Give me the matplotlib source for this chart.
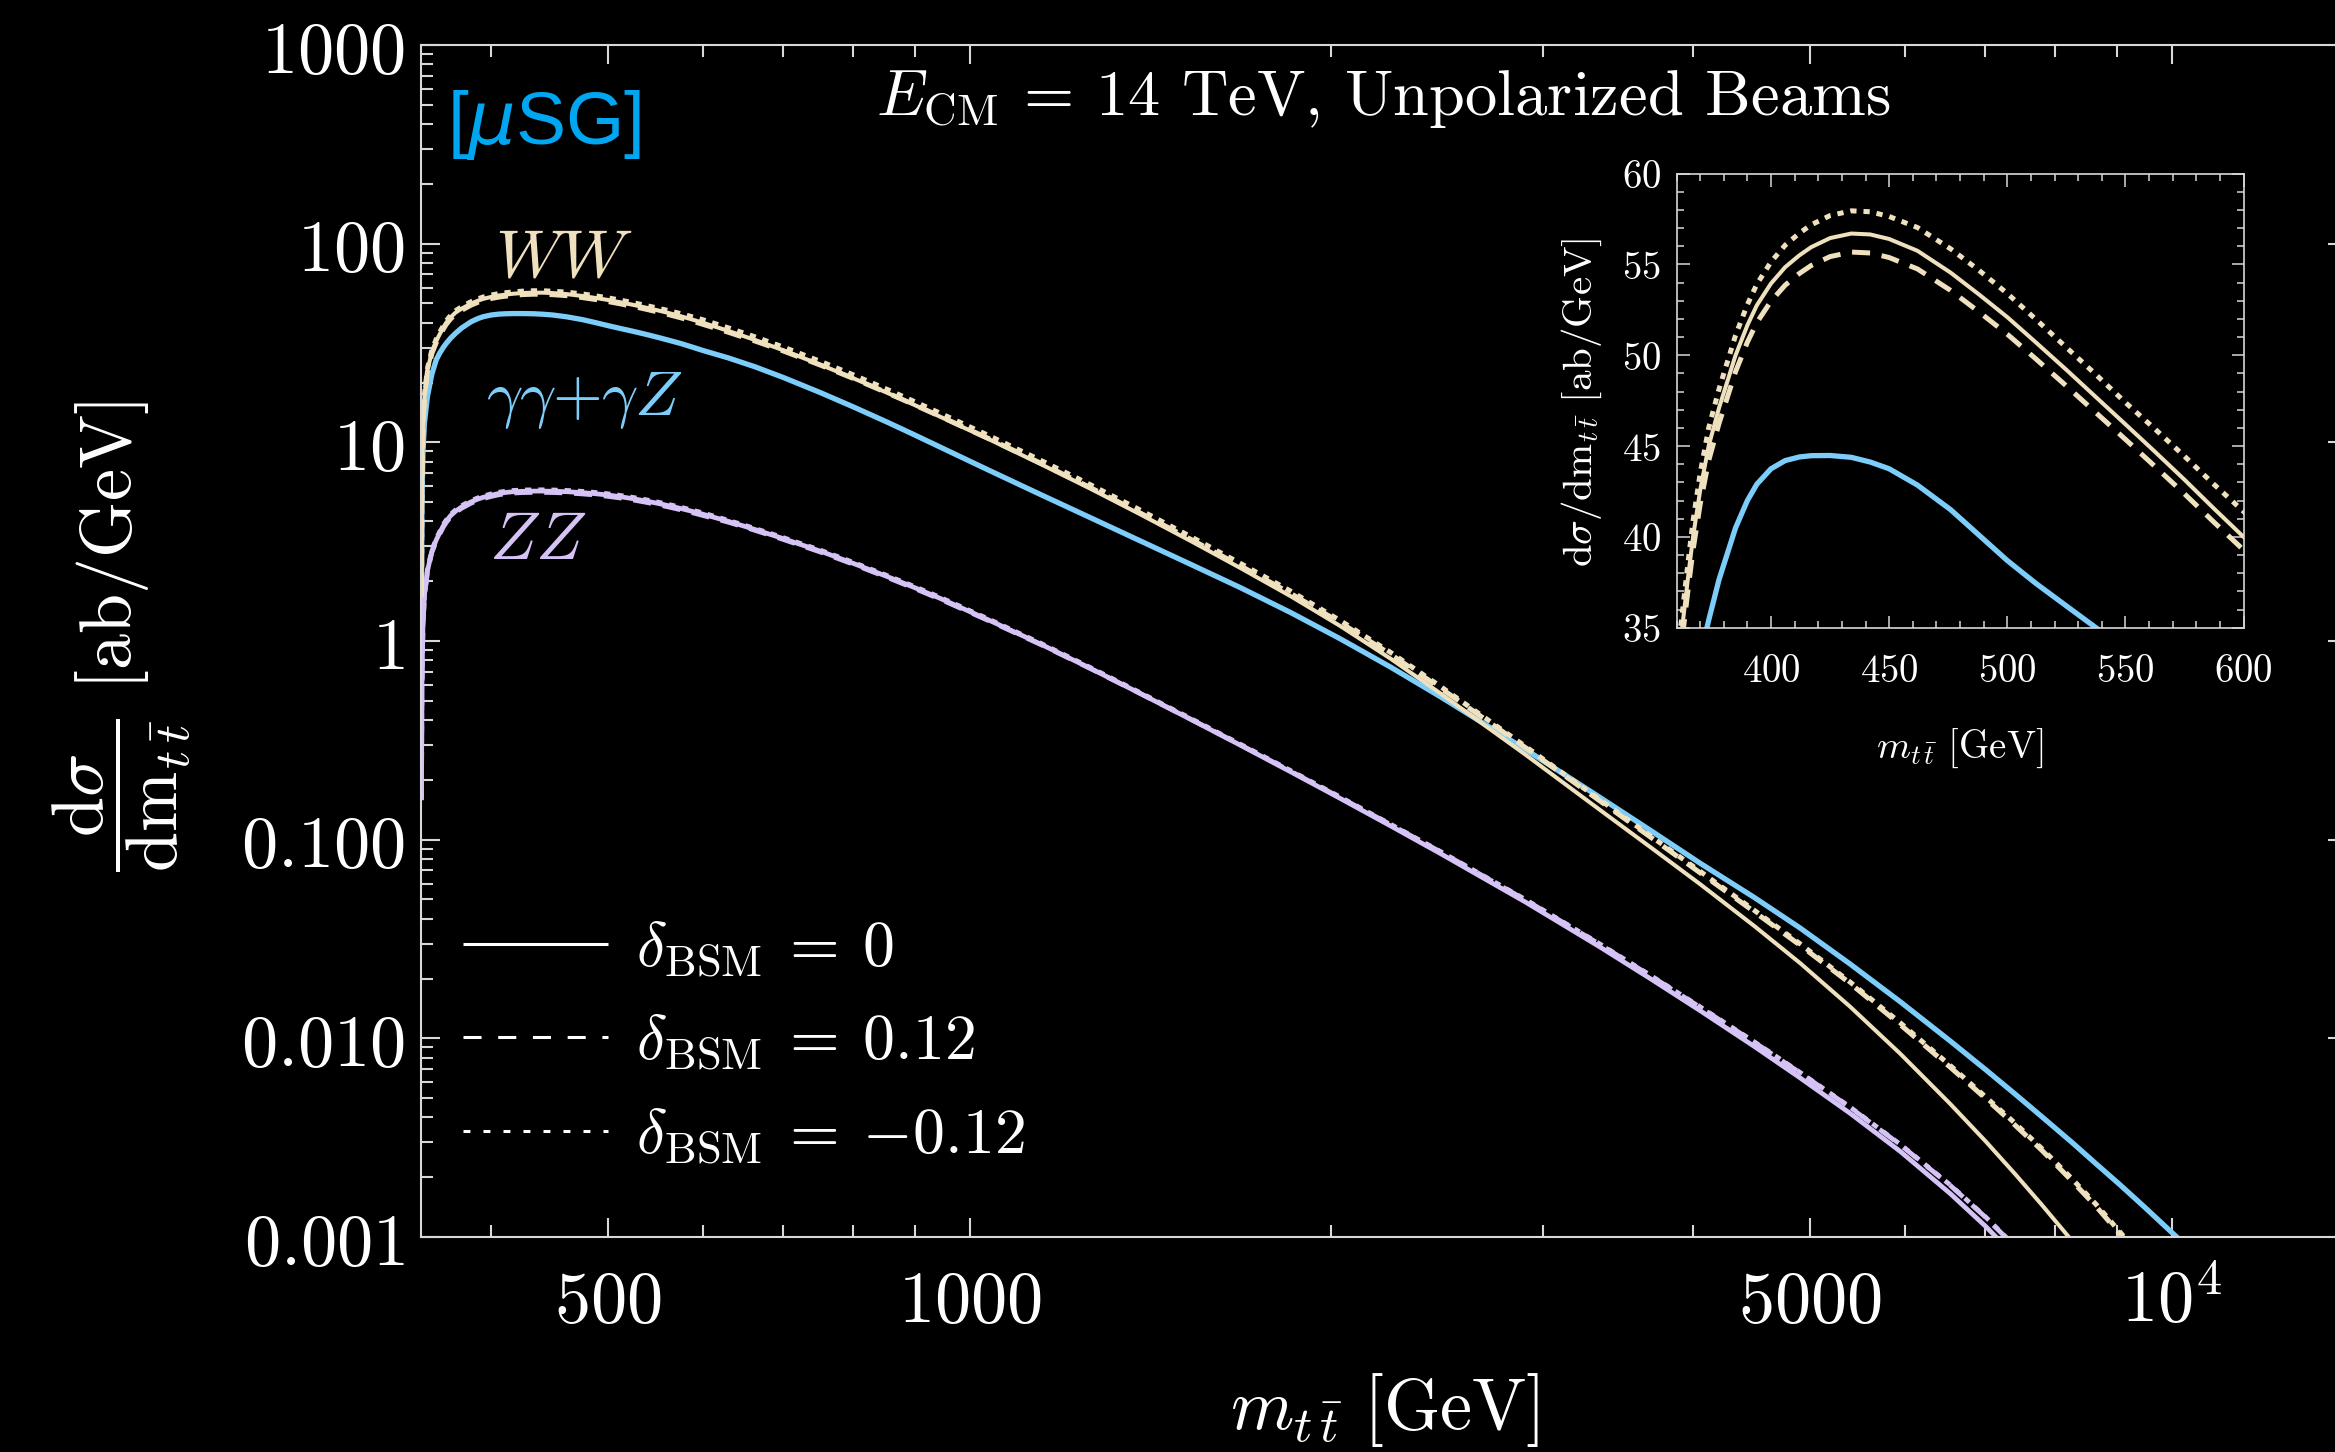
import numpy as np
import matplotlib
matplotlib.use("Agg")
import matplotlib.pyplot as plt
from matplotlib.lines import Line2D
from matplotlib.ticker import FixedLocator, FixedFormatter, LogLocator, NullFormatter, MultipleLocator, FuncFormatter

plt.rcParams['mathtext.fontset'] = 'cm'
plt.rcParams['font.family'] = ['DejaVu Serif']
plt.rcParams['lines.scale_dashes'] = False
plt.rcParams['axes.unicode_minus'] = False

# ---------------- data ----------------
m_tt = np.array([350.02, 350.3, 351, 352, 354, 357, 360, 362.4, 365, 367, 370, 373.6, 378, 385, 390, 394,
                 400, 406, 412, 417, 425, 434, 442, 450, 462, 476, 488, 500, 512, 525, 537, 550, 562, 575,
                 587, 600, 630, 663, 700, 753, 800, 855, 900, 945, 1040, 1145, 1260, 1387, 1530, 1680, 1850,
                 2034, 2240, 2464, 2900, 3346, 3700, 4053, 4500, 4909, 5400, 5945, 6543, 7000, 7407, 7800,
                 8259, 8650, 9060, 9500, 10097, 11000])

# W W fusion, delta_BSM = 0 / 0.12 / -0.12
ww_sm = np.array([1.7, 6.0, 12.0, 17.0, 23.0, 28.5, 32.3, 35.0, 37.9, 40.0, 42.55, 45.0, 47.1, 50.0, 51.65,
                  52.75, 53.95, 54.85, 55.5, 55.95, 56.45, 56.7, 56.65, 56.4, 55.75, 54.55, 53.35, 52.1, 50.72,
                  49.2, 47.76, 46.2, 44.75, 43.15, 41.62, 40.0, 36.37, 32.75, 29.06, 24.48, 21.04, 17.70, 15.41,
                  13.47, 10.30, 7.79, 5.85, 4.34, 3.17, 2.33, 1.68, 1.19, 0.815, 0.545, 0.268, 0.141, 0.090,
                  0.0597, 0.0366, 0.0239, 0.01446, 0.00838, 0.00468, 0.00304, 0.00208, 0.00145, 0.00096,
                  0.00068, 0.00047, 0.00032, 0.00019, 0.0001])
ww_plus = np.array([1.67, 5.89, 11.78, 16.69, 22.59, 27.99, 31.72, 34.37, 37.22, 39.28, 41.78, 44.19, 46.25,
                    49.1, 50.72, 51.80, 52.98, 53.86, 54.50, 54.94, 55.43, 55.68, 55.63, 55.38, 54.75, 53.57,
                    52.39, 51.16, 49.81, 48.31, 46.90, 45.37, 43.94, 42.37, 40.87, 39.28, 35.82, 32.36, 28.83,
                    24.36, 21.00, 17.70, 15.44, 13.52, 10.37, 7.87, 5.92, 4.405, 3.233, 2.388, 1.734, 1.238,
                    0.857, 0.580, 0.2908, 0.1565, 0.1013, 0.0681, 0.0432, 0.0294, 0.01894, 0.01173, 0.00716,
                    0.00499, 0.00366, 0.00273, 0.00192, 0.001428, 0.001034, 0.000736, 0.000456, 0.00025])
ww_minus = np.array([1.74, 6.13, 12.26, 17.37, 23.51, 29.13, 33.01, 35.77, 38.73, 40.88, 43.49, 45.99, 48.14,
                     51.10, 52.79, 53.91, 55.14, 56.06, 56.72, 57.18, 57.69, 57.95, 57.90, 57.64, 57.03, 55.86,
                     54.68, 53.40, 51.99, 50.43, 49.00, 47.40, 46.00, 44.44, 42.95, 41.40, 37.68, 33.96, 30.16,
                     25.43, 21.88, 18.41, 16.03, 14.02, 10.74, 8.14, 6.125, 4.557, 3.335, 2.458, 1.781, 1.267,
                     0.876, 0.591, 0.2948, 0.1586, 0.1026, 0.06925, 0.0439, 0.02988, 0.01923, 0.01198, 0.0073,
                     0.00508, 0.003744, 0.002784, 0.001968, 0.001462, 0.001058, 0.000752, 0.000466, 0.000255])
# gamma gamma + gamma Z
aa_az = np.array([2.0, 5.0, 9.0, 12.5, 17.0, 22.0, 26.0, 28.1, 30.1, 31.5, 33.4, 35.4, 37.65, 40.5, 42.0,
                  42.9, 43.75, 44.2, 44.4, 44.47, 44.48, 44.38, 44.12, 43.75, 42.85, 41.5, 40.1, 38.7, 37.45,
                  36.2, 35.05, 33.8, 32.65, 31.45, 30.25, 29.0, 26.6, 24.0, 21.2, 17.7, 15.1, 12.6, 10.9,
                  9.47, 7.19, 5.47, 4.18, 3.19, 2.42, 1.856, 1.39, 1.026, 0.739, 0.5245, 0.2847, 0.163, 0.1096,
                  0.0761, 0.051, 0.0359, 0.0237, 0.0153, 0.0097, 0.00697, 0.00525, 0.00403, 0.0030, 0.00234,
                  0.00183, 0.00141, 0.00100, 0.00061])
# Z Z fusion, delta_BSM = 0 / 0.12 / -0.12
zz_sm = np.array([0.16, 0.6, 1.2, 1.7, 2.25, 2.83, 3.22, 3.5, 3.81, 4.01, 4.27, 4.5, 4.73, 5.02, 5.18, 5.29,
                  5.42, 5.53, 5.6, 5.64, 5.67, 5.683, 5.683, 5.673, 5.643, 5.584, 5.515, 5.429, 5.327, 5.202,
                  5.077, 4.933, 4.796, 4.645, 4.503, 4.348, 4.002, 3.641, 3.275, 2.82, 2.461, 2.105, 1.857,
                  1.64, 1.266, 0.967, 0.729, 0.5438, 0.4012, 0.2988, 0.2195, 0.1613, 0.1173, 0.0852, 0.04854,
                  0.0288, 0.01965, 0.01378, 0.00907, 0.00632, 0.0042, 0.0027, 0.001655, 0.001134, 0.000799,
                  0.000568, 0.00038, 0.000274, 0.000195, 0.000135, 0.00009, 0.00005])
zz_plus = np.array([0.158, 0.591, 1.182, 1.675, 2.216, 2.788, 3.172, 3.448, 3.753, 3.950, 4.206, 4.433, 4.659,
                    4.945, 5.102, 5.211, 5.339, 5.447, 5.516, 5.555, 5.585, 5.598, 5.598, 5.588, 5.558, 5.500,
                    5.432, 5.348, 5.247, 5.124, 5.001, 4.859, 4.724, 4.575, 4.435, 4.283, 3.962, 3.605, 3.242,
                    2.792, 2.436, 2.084, 1.838, 1.624, 1.257, 0.962, 0.7275, 0.5438, 0.402, 0.3003, 0.221,
                    0.1629, 0.1191, 0.0869, 0.04975, 0.02966, 0.02034, 0.01433, 0.009524, 0.0067, 0.004494,
                    0.002916, 0.00182, 0.001259, 0.000895, 0.000642, 0.000433, 0.000315, 0.000226, 0.000158,
                    0.000106, 0.0000595])
zz_minus = np.array([0.162, 0.609, 1.218, 1.726, 2.284, 2.872, 3.268, 3.553, 3.867, 4.070, 4.334, 4.568, 4.801,
                     5.095, 5.258, 5.369, 5.501, 5.613, 5.684, 5.725, 5.755, 5.768, 5.768, 5.758, 5.728, 5.668,
                     5.598, 5.510, 5.407, 5.280, 5.153, 5.007, 4.868, 4.715, 4.571, 4.413, 4.050, 3.685, 3.314,
                     2.854, 2.491, 2.130, 1.879, 1.660, 1.280, 0.9767, 0.7363, 0.5492, 0.4056, 0.3024, 0.2226,
                     0.1639, 0.1196, 0.08724, 0.05, 0.02981, 0.02044, 0.0144, 0.009569, 0.006731, 0.004515,
                     0.00293, 0.001829, 0.001264, 0.000899, 0.000645, 0.000435, 0.000316, 0.000227, 0.000159,
                     0.000107, 0.0000598])

x_major = [500, 1000, 5000, 10000]
x_major_labels = [r'$500$', r'$1000$', r'$5000$', r'$10^4$']
x_minor = [400, 600, 700, 800, 900, 2000, 3000, 4000, 6000, 7000, 8000, 9000]
y_major = [1e-3, 1e-2, 1e-1, 1, 10, 100, 1000]
y_major_labels = [r'$0.001$', r'$0.010$', r'$0.100$', r'$1$', r'$10$', r'$100$', r'$1000$']
legend_labels = [r'$\delta_{\mathrm{BSM}}\:=\:0$', r'$\delta_{\mathrm{BSM}}\:=\:0.12$',
                 r'$\delta_{\mathrm{BSM}}\:=\:{-}0.12$']

# ---------------- styles ----------------
BEIGE = '#F0E1BE'
BLUE = '#7DCDFA'
PURPLE = '#D6C3F6'
LABELBLUE = '#00A6EF'
SPINE = '#D8D8D8'
DASH = (13, 8.5)
DOT = (4.5, 5.0)

fig = plt.figure(figsize=(23.35, 14.52), dpi=100, facecolor='black')
ax = fig.add_axes([0.18051, 0.14807, 0.82475, 0.82094])
ax.set_facecolor('black')
ax.set_xscale('log')
ax.set_yscale('log')
ax.set_xlim(350, 14000)
ax.set_ylim(1e-3, 1e3)


def draw_curves(a):
    a.plot(m_tt, zz_sm, color=PURPLE, lw=3.4, solid_capstyle='butt')
    a.plot(m_tt, zz_plus, color=PURPLE, lw=3.4, dashes=DASH)
    a.plot(m_tt, zz_minus, color=PURPLE, lw=3.4, dashes=DOT)
    a.plot(m_tt, aa_az, color=BLUE, lw=3.8, solid_capstyle='butt')
    a.plot(m_tt, ww_sm, color=BEIGE, lw=2.9, solid_capstyle='butt')
    a.plot(m_tt, ww_plus, color=BEIGE, lw=3.6, dashes=DASH)
    a.plot(m_tt, ww_minus, color=BEIGE, lw=3.6, dashes=DOT)


draw_curves(ax)

ax.xaxis.set_major_locator(FixedLocator(x_major))
ax.xaxis.set_major_formatter(FixedFormatter(x_major_labels))
ax.xaxis.set_minor_locator(FixedLocator(x_minor))
ax.xaxis.set_minor_formatter(NullFormatter())
ax.yaxis.set_major_locator(FixedLocator(y_major))
ax.yaxis.set_major_formatter(FixedFormatter(y_major_labels))
ax.yaxis.set_minor_locator(LogLocator(base=10, subs=np.arange(2, 10), numticks=100))
ax.yaxis.set_minor_formatter(NullFormatter())

ax.tick_params(which='both', direction='in', top=True, right=True, color=SPINE,
               width=1.5, labelcolor='white', labelsize=52)
ax.tick_params(which='major', length=13.5)
ax.tick_params(which='minor', length=8.5)
ax.tick_params(axis='x', which='major', pad=21)
ax.tick_params(axis='y', which='major', pad=12)
for s in ax.spines.values():
    s.set_color(SPINE)
    s.set_linewidth(1.5)

# curve labels
ax.text(460, 84.5, r'$WW$', color=BEIGE, fontsize=49, ha='center', va='center')
ax.text(478, 16.3, r'$\gamma\gamma{+}\gamma Z$', color=BLUE, fontsize=46, ha='center', va='center')
ax.text(437, 3.2, r'$ZZ$', color=PURPLE, fontsize=49, ha='center', va='center')

# legend
handles = [Line2D([], [], color='white', lw=2.2, solid_capstyle='butt'),
           Line2D([], [], color='white', lw=2.2, dashes=(13, 12)),
           Line2D([], [], color='white', lw=2.2, dashes=(5, 9.4))]
leg = ax.legend(handles, legend_labels, loc='upper left', bbox_to_anchor=(0.1981, 0.3675),
                bbox_transform=fig.transFigure, frameon=False, fontsize=46, labelcolor='white',
                handlelength=2.27, handletextpad=0.45, labelspacing=0.5, borderpad=0, borderaxespad=0)

# title / labels
fig.text(0.5925, 0.9208, r'$E_{\mathrm{CM}}$ = 14 TeV, Unpolarized Beams',
         color='white', fontsize=46.5, ha='center', va='baseline', family='cmr10')
fig.text(0.1915, 0.9008, r'[$\mu$SG]', color=LABELBLUE, fontsize=54, ha='left', va='baseline',
         family='Liberation Sans', math_fontfamily='dejavusans')
fig.text(0.0526, 0.5613, r'$\dfrac{\mathrm{d}\sigma}{\mathrm{dm}_{t\,\bar{t}}}\ [\mathrm{ab/GeV}]$',
         color='white', fontsize=52, rotation=90, ha='center', va='center')
fig.text(0.5932, 0.0160, r'$m_{t\,\bar{t}}\ [\mathrm{GeV}]$', color='white', fontsize=52,
         ha='center', va='baseline')

# ---------------- inset ----------------
ax2 = fig.add_axes([0.71799, 0.56770, 0.24283, 0.31274])
ax2.set_facecolor('black')
draw_curves(ax2)
ax2.set_xlim(360, 600)
ax2.set_ylim(35, 60)
ax2.xaxis.set_major_locator(MultipleLocator(50))
ax2.xaxis.set_minor_locator(MultipleLocator(10))
ax2.yaxis.set_major_locator(MultipleLocator(5))
ax2.yaxis.set_minor_locator(MultipleLocator(1))
fmt = FuncFormatter(lambda v, p: r'$%d$' % int(round(v)))
ax2.xaxis.set_major_formatter(fmt)
ax2.yaxis.set_major_formatter(fmt)
ax2.tick_params(which='both', direction='in', top=True, right=True, color=SPINE,
                width=1.1, labelcolor='white', labelsize=28)
ax2.tick_params(which='major', length=9)
ax2.tick_params(which='minor', length=5)
ax2.tick_params(axis='x', which='major', pad=18)
ax2.tick_params(axis='y', which='major', pad=11)
for s in ax2.spines.values():
    s.set_color(SPINE)
    s.set_linewidth(1.2)
fig.text(0.8394, 0.4993, r'$m_{t\,\bar{t}}\ [\mathrm{GeV}]$', color='white', fontsize=28,
         ha='center', va='top')
fig.text(0.6775, 0.7231, r'$\mathrm{d}\sigma/\mathrm{dm}_{t\,\bar{t}}\ [\mathrm{ab/GeV}]$', color='white',
         fontsize=29.5, rotation=90, ha='center', va='center')

fig.savefig('out.png', dpi=100, facecolor='black')
